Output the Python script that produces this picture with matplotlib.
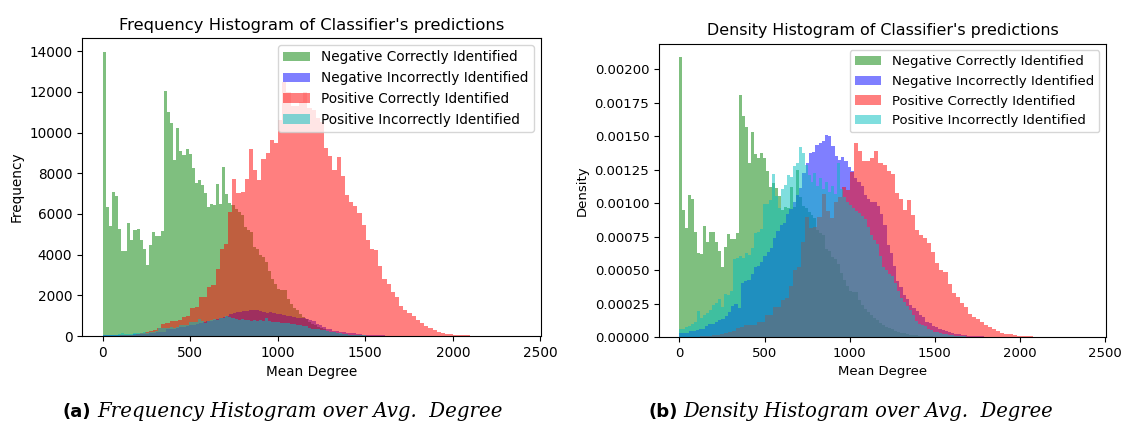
import numpy as np
import matplotlib
matplotlib.use("Agg")
import matplotlib.pyplot as plt

# Each class was binned into 100 equal-width bins over its own range of mean degree
n_bins = 100
neg_correct_range = (0, 1750)
neg_incorrect_range = (0, 1900)
pos_correct_range = (0, 2385)
pos_incorrect_range = (0, 1750)

# Counts per bin
neg_correct_counts = [
    13950, 6330, 5430, 7100, 6870, 5260, 4200, 4160, 5560, 4740,
    5230, 5260, 4720, 4280, 3510, 4490, 5130, 4900, 4900, 5180,
    12060, 11030, 10460, 8670, 10230, 9110, 8920, 9180, 8950, 8260,
    7510, 7670, 7440, 7040, 6330, 6500, 6420, 7480, 6500, 8330,
    6990, 6530, 6420, 6250, 6100, 5930, 5350, 5200, 5100, 4370,
    4290, 4000, 3880, 3630, 3200, 2820, 2570, 2300, 2240, 2240,
    1830, 1590, 1400, 1260, 1100, 950, 850, 700, 600, 520,
    450, 380, 320, 270, 220, 180, 150, 120, 100, 80,
    65, 52, 42, 34, 27, 22, 18, 14, 11, 9,
    7, 6, 5, 4, 3, 3, 2, 2, 1, 1,
]
neg_incorrect_counts = [
    27, 27, 27, 36, 36, 45, 54, 54, 72, 81,
    81, 99, 108, 117, 135, 161, 197, 215, 188, 350,
    359, 368, 404, 449, 457, 484, 520, 547, 574, 637,
    682, 718, 736, 789, 825, 870, 915, 960, 1058, 1121,
    1184, 1193, 1238, 1247, 1265, 1301, 1292, 1229, 1166, 1139,
    1157, 1130, 1094, 1067, 1023, 996, 969, 915, 888, 870,
    870, 843, 789, 718, 592, 538, 457, 359, 323, 269,
    242, 206, 188, 170, 144, 126, 99, 90, 72, 63,
    54, 45, 36, 31, 27, 22, 18, 14, 12, 9,
    7, 5, 4, 4, 3, 2, 2, 1, 1, 1,
]
pos_correct_counts = [
    5, 8, 12, 18, 25, 35, 50, 70, 100, 140,
    200, 240, 290, 400, 590, 650, 750, 760, 780, 950,
    960, 1400, 1420, 1900, 1920, 2400, 2500, 3300, 4300, 4500,
    6100, 7730, 7020, 7070, 7730, 9170, 8140, 7650, 8710, 9000,
    9640, 9480, 10600, 12500, 12000, 11300, 11300, 11500, 12000, 11200,
    11100, 10700, 10500, 9250, 8870, 8170, 8820, 7840, 6910, 6580,
    6370, 6040, 5440, 4730, 4290, 4210, 3440, 2820, 2570, 2160,
    1915, 1460, 1290, 1130, 970, 800, 640, 490, 390, 280,
    210, 165, 115, 82, 65, 49, 33, 25, 18, 13,
    10, 7, 5, 4, 3, 2, 1, 1, 1, 1,
]
pos_incorrect_counts = [
    41, 41, 48, 54, 68, 75, 129, 95, 109, 122,
    136, 163, 170, 190, 150, 218, 211, 231, 394, 401,
    408, 401, 422, 415, 449, 524, 530, 544, 673, 673,
    694, 823, 714, 653, 748, 768, 816, 809, 864, 877,
    959, 932, 870, 816, 782, 830, 762, 802, 748, 782,
    734, 762, 721, 877, 748, 707, 680, 666, 653, 639,
    626, 612, 598, 558, 517, 490, 469, 408, 354, 340,
    320, 306, 272, 231, 197, 177, 156, 136, 109, 82,
    68, 61, 54, 41, 34, 27, 24, 20, 17, 14,
    11, 8, 7, 5, 4, 3, 2, 1, 1, 1,
]

series = [
    ("Negative Correctly Identified", neg_correct_counts, neg_correct_range, "g"),
    ("Negative Incorrectly Identified", neg_incorrect_counts, neg_incorrect_range, "b"),
    ("Positive Correctly Identified", pos_correct_counts, pos_correct_range, "r"),
    ("Positive Incorrectly Identified", pos_incorrect_counts, pos_incorrect_range, "c"),
]

W, H = 1126, 423
fig = plt.figure(figsize=(W / 100, H / 100), dpi=100)
ax_freq = fig.add_axes([82 / W, 87 / H, 459 / W, 298 / H])
ax_dens = fig.add_axes([659 / W, 86 / H, 447 / W, 293.5 / H])


def draw_panel(ax, density, title, ylabel, fs):
    for label, counts, rng, color in series:
        edges = np.linspace(rng[0], rng[1], n_bins + 1)
        ax.hist(edges[:-1], bins=edges, weights=counts, density=density,
                histtype="stepfilled", color=color, alpha=0.5, linewidth=0,
                label=label)
    ax.set_title(title, fontsize=fs * 1.2)
    ax.set_xlabel("Mean Degree", fontsize=fs)
    ax.set_ylabel(ylabel, fontsize=fs)
    ax.tick_params(labelsize=fs)
    ax.legend(loc="upper right", fontsize=fs)


draw_panel(ax_freq, False, "Frequency Histogram of Classifier's predictions",
           "Frequency", 9.8)
draw_panel(ax_dens, True, "Density Histogram of Classifier's predictions",
           "Density", 9.5)

# Sub-figure captions: bold tag followed by an italic description
fig.canvas.draw()
renderer = fig.canvas.get_renderer()
baseline = 1 - 417 / H


def caption(x_tag, tag, body, x_end):
    t1 = fig.text(x_tag / W, baseline, tag, fontfamily="DejaVu Sans",
                  fontweight="bold", fontsize=13, va="baseline")
    bb = t1.get_window_extent(renderer)
    x_body = bb.x1 + 6
    t2 = fig.text(x_body / W, baseline, body, fontfamily="DejaVu Serif",
                  style="italic", fontsize=14, va="baseline")
    bb2 = t2.get_window_extent(renderer)
    t2.set_fontsize(14 * (x_end - x_body) / bb2.width)


caption(63, "(a)", "Frequency Histogram over Avg.  Degree", 503)
caption(648, "(b)", "Density Histogram over Avg.  Degree", 1055)

fig.savefig("out.png", dpi=100)
